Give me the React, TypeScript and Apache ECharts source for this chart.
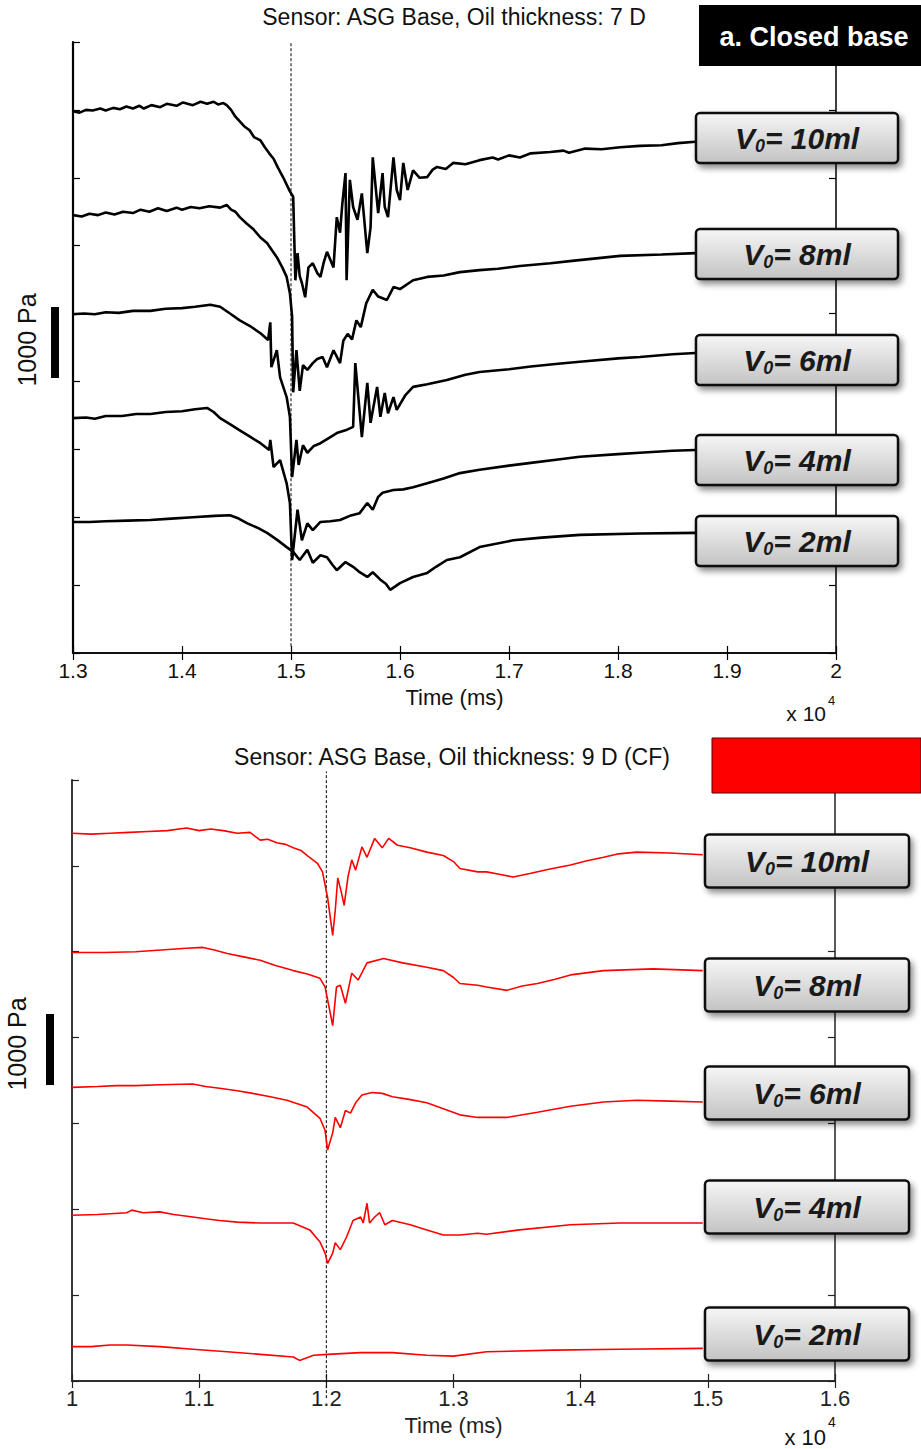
import { useEffect, useRef } from "react";
import * as echarts from "echarts";

type Pt = [number, number];

// ---------- Panel a: closed base (time in ms, traces in stacked offset units) ----------
const closedTickLabels = ["1.3", "1.4", "1.5", "1.6", "1.7", "1.8", "1.9", "2"];
const closedV10: Pt[] = [
  [13000, 7.98], [13060, 7.96], [13120, 8.0], [13180, 7.99], [13250, 8.02], [13300, 7.99], [13370, 8.03],
  [13430, 8.01], [13490, 8.05], [13550, 8.02], [13610, 8.06], [13650, 8.02], [13720, 8.07], [13800, 8.04],
  [13860, 8.09], [13950, 8.06], [14010, 8.11], [14100, 8.07], [14170, 8.12], [14230, 8.09], [14290, 8.12],
  [14330, 8.08], [14380, 8.1], [14410, 8.07], [14450, 8.0], [14490, 7.9], [14530, 7.83], [14570, 7.76],
  [14620, 7.7], [14660, 7.6], [14720, 7.55], [14760, 7.45], [14800, 7.36], [14840, 7.28], [14880, 7.15],
  [14930, 7.0], [14960, 6.9], [14990, 6.8], [15020, 6.72], [15040, 5.49], [15060, 5.89], [15080, 5.55],
  [15100, 5.45], [15130, 5.24], [15160, 5.68], [15200, 5.74], [15240, 5.6], [15270, 5.54], [15300, 5.75],
  [15330, 5.91], [15390, 5.68], [15420, 6.42], [15450, 6.19], [15470, 6.6], [15500, 7.07], [15510, 5.49],
  [15540, 6.97], [15570, 6.57], [15610, 6.38], [15650, 6.77], [15700, 5.89], [15730, 6.27], [15750, 7.3],
  [15800, 6.48], [15840, 7.07], [15860, 6.57], [15890, 6.42], [15940, 7.3], [15970, 6.82], [16000, 6.67],
  [16030, 7.22], [16070, 6.82], [16120, 7.11], [16180, 7.0], [16250, 7.01], [16300, 7.12], [16340, 7.16],
  [16420, 7.13], [16490, 7.22], [16600, 7.2], [16730, 7.26], [16850, 7.3], [16900, 7.27], [17000, 7.33],
  [17100, 7.3], [17200, 7.36], [17380, 7.38], [17500, 7.4], [17550, 7.37], [17700, 7.43], [17850, 7.42],
  [18020, 7.45], [18200, 7.47], [18400, 7.48], [18550, 7.51], [18710, 7.53],
];
const closedV8: Pt[] = [
  [13000, 6.45], [13080, 6.43], [13150, 6.47], [13230, 6.45], [13300, 6.49], [13380, 6.46], [13460, 6.5],
  [13550, 6.48], [13620, 6.53], [13700, 6.5], [13780, 6.55], [13860, 6.51], [13950, 6.56], [14000, 6.53],
  [14080, 6.57], [14160, 6.55], [14250, 6.58], [14350, 6.56], [14410, 6.6], [14450, 6.53], [14490, 6.5],
  [14530, 6.42], [14590, 6.33], [14650, 6.25], [14720, 6.12], [14780, 6.04], [14830, 5.92], [14870, 5.83],
  [14920, 5.68], [14960, 5.54], [14990, 5.3], [15010, 4.96], [15020, 3.84], [15050, 4.46], [15080, 3.86],
  [15110, 4.24], [15150, 4.17], [15200, 4.27], [15240, 4.33], [15290, 4.36], [15330, 4.21], [15390, 4.46],
  [15450, 4.27], [15480, 4.6], [15520, 4.7], [15560, 4.62], [15600, 4.9], [15640, 4.8], [15690, 5.15],
  [15750, 5.35], [15800, 5.25], [15880, 5.2], [15940, 5.39], [16000, 5.36], [16120, 5.49], [16250, 5.54],
  [16400, 5.56], [16550, 5.61], [16730, 5.64], [16900, 5.66], [17100, 5.7], [17380, 5.74], [17600, 5.78],
  [18020, 5.85], [18400, 5.87], [18710, 5.89],
];
const closedV6: Pt[] = [
  [13000, 4.99], [13100, 5.0], [13200, 4.99], [13300, 5.02], [13420, 5.01], [13550, 5.04], [13710, 5.04],
  [13850, 5.07], [14000, 5.08], [14120, 5.1], [14260, 5.13], [14350, 5.1], [14440, 5.0], [14530, 4.9],
  [14620, 4.82], [14720, 4.71], [14790, 4.61], [14810, 4.87], [14820, 4.21], [14870, 4.46], [14900, 4.06],
  [14960, 3.77], [14990, 3.48], [15010, 2.59], [15050, 3.14], [15070, 2.77], [15110, 3.06], [15150, 2.95],
  [15210, 3.05], [15270, 3.09], [15350, 3.17], [15420, 3.24], [15500, 3.28], [15570, 3.33], [15590, 4.27],
  [15620, 3.73], [15650, 3.18], [15700, 3.98], [15730, 3.39], [15790, 3.92], [15820, 3.48], [15860, 3.83],
  [15890, 3.53], [15940, 3.77], [15970, 3.58], [16050, 3.8], [16120, 3.92], [16250, 3.96], [16430, 4.02],
  [16600, 4.1], [16730, 4.14], [17000, 4.18], [17200, 4.22], [17450, 4.26], [17650, 4.29], [18000, 4.34],
  [18200, 4.36], [18500, 4.4], [18710, 4.42],
];
const closedV4: Pt[] = [
  [13000, 3.46], [13120, 3.47], [13200, 3.45], [13300, 3.49], [13450, 3.49], [13580, 3.52], [13710, 3.52],
  [13850, 3.55], [14000, 3.56], [14120, 3.59], [14230, 3.61], [14290, 3.55], [14350, 3.46], [14440, 3.37],
  [14530, 3.28], [14620, 3.19], [14720, 3.09], [14800, 2.99], [14810, 3.14], [14840, 2.74], [14900, 2.84],
  [14960, 2.5], [14990, 2.21], [15010, 1.37], [15060, 2.11], [15100, 1.66], [15150, 1.91], [15200, 1.81],
  [15270, 1.93], [15360, 1.94], [15450, 1.96], [15540, 2.02], [15630, 2.06], [15700, 2.21], [15750, 2.11],
  [15800, 2.3], [15840, 2.36], [15940, 2.4], [16030, 2.41], [16120, 2.44], [16250, 2.5], [16400, 2.57],
  [16550, 2.65], [16730, 2.7], [17000, 2.76], [17200, 2.8], [17450, 2.85], [17650, 2.89], [18000, 2.93],
  [18200, 2.95], [18500, 2.98], [18710, 2.99],
];
const closedV2: Pt[] = [
  [13000, 1.93], [13150, 1.93], [13300, 1.94], [13500, 1.95], [13710, 1.96], [13900, 1.98], [14100, 2.0],
  [14300, 2.02], [14440, 2.03], [14520, 1.98], [14600, 1.91], [14700, 1.84], [14780, 1.77], [14870, 1.67],
  [14960, 1.56], [15020, 1.49], [15080, 1.37], [15150, 1.52], [15200, 1.33], [15270, 1.44], [15330, 1.41],
  [15380, 1.3], [15420, 1.22], [15500, 1.34], [15570, 1.27], [15630, 1.19], [15700, 1.12], [15750, 1.19],
  [15820, 1.08], [15870, 1.02], [15910, 0.93], [16000, 1.03], [16120, 1.12], [16250, 1.18], [16330, 1.27],
  [16430, 1.37], [16550, 1.41], [16730, 1.56], [17040, 1.66], [17300, 1.7], [17650, 1.74], [18200, 1.76],
  [18710, 1.77],
];
const closedMarker: Pt[] = [[15000, 0.1], [15000, 9]];

// ---------- Panel b: 9 D (CF) ----------
const cfTickLabels = ["1", "1.1", "1.2", "1.3", "1.4", "1.5", "1.6"];
const cfV10: Pt[] = [
  [10000, 6.38], [10150, 6.37], [10300, 6.38], [10450, 6.39], [10600, 6.4], [10750, 6.41], [10900, 6.44],
  [11000, 6.41], [11090, 6.43], [11190, 6.41], [11300, 6.38], [11400, 6.39], [11480, 6.3], [11540, 6.31],
  [11610, 6.27], [11680, 6.25], [11740, 6.21], [11800, 6.18], [11850, 6.12], [11930, 6.03], [11970, 5.93],
  [12010, 5.63], [12050, 5.19], [12070, 5.48], [12090, 5.86], [12120, 5.68], [12140, 5.54], [12170, 5.87],
  [12200, 6.07], [12230, 5.95], [12280, 6.22], [12320, 6.1], [12380, 6.32], [12440, 6.21], [12490, 6.32],
  [12560, 6.24], [12660, 6.21], [12790, 6.16], [12920, 6.12], [13000, 6.05], [13050, 5.97], [13190, 5.93],
  [13260, 5.93], [13370, 5.9], [13470, 5.87], [13600, 5.91], [13750, 5.96], [13920, 6.01], [14050, 6.06],
  [14180, 6.1], [14300, 6.14], [14440, 6.16], [14700, 6.15], [14960, 6.13],
];
const cfV8: Pt[] = [
  [10000, 4.99], [10250, 4.99], [10500, 5.0], [10700, 5.02], [10900, 5.04], [11030, 5.05], [11120, 5.02],
  [11220, 4.98], [11350, 4.94], [11480, 4.9], [11600, 4.84], [11740, 4.78], [11850, 4.74], [11950, 4.69],
  [11990, 4.59], [12050, 4.14], [12080, 4.59], [12110, 4.61], [12150, 4.4], [12200, 4.75], [12250, 4.67],
  [12320, 4.87], [12450, 4.92], [12600, 4.87], [12790, 4.82], [12920, 4.78], [13000, 4.7], [13050, 4.63],
  [13190, 4.61], [13260, 4.59], [13420, 4.55], [13540, 4.6], [13660, 4.63], [13800, 4.68], [13920, 4.73],
  [14180, 4.78], [14570, 4.8], [14960, 4.78],
];
const cfV6: Pt[] = [
  [10000, 3.42], [10200, 3.43], [10350, 3.44], [10500, 3.44], [10690, 3.45], [10950, 3.46], [11050, 3.43],
  [11160, 3.41], [11300, 3.38], [11420, 3.35], [11560, 3.31], [11690, 3.27], [11850, 3.19], [11950, 3.06],
  [11990, 2.92], [12010, 2.69], [12050, 2.89], [12070, 3.07], [12110, 2.95], [12150, 3.15], [12190, 3.12],
  [12230, 3.24], [12280, 3.33], [12360, 3.36], [12440, 3.35], [12520, 3.31], [12650, 3.28], [12790, 3.24],
  [12920, 3.17], [13050, 3.1], [13190, 3.07], [13420, 3.07], [13660, 3.13], [13920, 3.2], [14180, 3.25],
  [14440, 3.27], [14700, 3.26], [14960, 3.25],
];
const cfV4: Pt[] = [
  [10000, 1.93], [10200, 1.94], [10430, 1.96], [10470, 1.99], [10560, 1.96], [10690, 1.97], [10800, 1.94],
  [10950, 1.91], [11050, 1.89], [11160, 1.87], [11300, 1.85], [11480, 1.84], [11600, 1.84], [11740, 1.84],
  [11870, 1.76], [11950, 1.62], [11990, 1.49], [12010, 1.37], [12050, 1.49], [12070, 1.61], [12110, 1.53],
  [12160, 1.68], [12210, 1.87], [12270, 1.91], [12290, 1.84], [12320, 2.07], [12340, 1.84], [12380, 1.91],
  [12420, 1.96], [12460, 1.82], [12520, 1.87], [12660, 1.82], [12790, 1.76], [12920, 1.7], [13050, 1.7],
  [13190, 1.72], [13260, 1.71], [13520, 1.76], [13920, 1.82], [14310, 1.84], [14960, 1.84],
];
const cfV2: Pt[] = [
  [10000, 0.4], [10150, 0.4], [10300, 0.42], [10430, 0.42], [10690, 0.4], [10950, 0.37], [11220, 0.34],
  [11480, 0.31], [11740, 0.28], [11790, 0.24], [11900, 0.3], [12010, 0.31], [12270, 0.33], [12520, 0.33],
  [12790, 0.3], [13000, 0.29], [13260, 0.34], [13780, 0.36], [14310, 0.37], [14960, 0.38],
];
const cfMarker: Pt[] = [[12000, -0.2], [12000, 7.1]];

const volumeLabels = ["10ml", "8ml", "6ml", "4ml", "2ml"];

// ---------- layout (pixels) ----------
const closedBoxCenters = [138, 254, 360, 460, 541];
const cfBoxCenters = [861, 985, 1093, 1207, 1334];

const FONT = "'Liberation Sans', Arial, Helvetica, sans-serif";

function labelBox(x: number, yc: number, w: number, h: number, vol: string) {
  const grad = new echarts.graphic.LinearGradient(0, 0, 0, 1, [
    { offset: 0, color: "#f6f6f6" },
    { offset: 1, color: "#c3c3c3" },
  ]);
  return [
    {
      type: "rect",
      z: 100,
      shape: { x, y: yc - h / 2, width: w, height: h, r: 4 },
      style: {
        fill: grad,
        stroke: "#111",
        lineWidth: 2.5,
        shadowBlur: 6,
        shadowOffsetX: 3,
        shadowOffsetY: 4,
        shadowColor: "rgba(0,0,0,0.45)",
      },
    },
    {
      type: "text",
      z: 101,
      x: x + w / 2,
      y: yc,
      style: {
        text: `{v|V}{s|0}{v|= ${vol}}`,
        align: "center",
        verticalAlign: "middle",
        rich: {
          v: { fontSize: 30, fontWeight: "bold", fontStyle: "italic", fontFamily: FONT, fill: "#1a1a1a", lineHeight: 34, verticalAlign: "middle" },
          s: { fontSize: 18, fontWeight: "bold", fontStyle: "italic", fontFamily: FONT, fill: "#1a1a1a", lineHeight: 18, verticalAlign: "bottom" },
        },
      },
    },
  ];
}

function tickFormatter(labels: string[], min: number) {
  return (v: number) => labels[Math.round((v - min) / 1000)] ?? "";
}

export default function App() {
  const ref = useRef<HTMLDivElement>(null);

  useEffect(() => {
    document.body.style.margin = "0";
    if (!ref.current) return;
    const chart = echarts.init(ref.current, undefined, { renderer: "svg" });

    const axisLineStyle = (w: number, c: string) => ({ show: true, lineStyle: { color: c, width: w } });
    const tick = (c: string) => ({ show: true, inside: true, length: 7, lineStyle: { color: c, width: 1.2 } });

    const blackTrace = (data: Pt[]) => ({
      type: "line",
      xAxisIndex: 0,
      yAxisIndex: 0,
      data,
      symbol: "none",
      silent: true,
      lineStyle: { color: "#000", width: 2.6 },
    });
    const redTrace = (data: Pt[]) => ({
      type: "line",
      xAxisIndex: 2,
      yAxisIndex: 2,
      data,
      symbol: "none",
      silent: true,
      lineStyle: { color: "#ff0000", width: 1.6 },
    });

    const graphics: any[] = [
      // titles
      { type: "text", x: 454, y: 17, style: { text: "Sensor: ASG Base, Oil thickness: 7 D", font: `23px ${FONT}`, fill: "#111", align: "center", verticalAlign: "middle" } },
      { type: "text", x: 452, y: 757, style: { text: "Sensor: ASG Base, Oil thickness: 9 D (CF)", font: `23px ${FONT}`, fill: "#111", align: "center", verticalAlign: "middle" } },
      // panel tags
      { type: "rect", z: 100, shape: { x: 699, y: 5, width: 222, height: 61 }, style: { fill: "#000" } },
      { type: "text", z: 101, x: 814, y: 37, style: { text: "a. Closed base", font: `bold 27px ${FONT}`, fill: "#fff", align: "center", verticalAlign: "middle" } },
      { type: "rect", z: 100, shape: { x: 712, y: 738, width: 209, height: 55 }, style: { fill: "#ff0000", stroke: "#5a0000", lineWidth: 1 } },
      // scale bars
      { type: "rect", shape: { x: 51, y: 307, width: 8, height: 71 }, style: { fill: "#000" } },
      { type: "text", x: 27, y: 340, rotation: Math.PI / 2, style: { text: "1000 Pa", font: `25px ${FONT}`, fill: "#111", align: "center", verticalAlign: "middle" } },
      { type: "rect", shape: { x: 46, y: 1014, width: 8, height: 71 }, style: { fill: "#000" } },
      { type: "text", x: 17, y: 1044, rotation: Math.PI / 2, style: { text: "1000 Pa", font: `25px ${FONT}`, fill: "#111", align: "center", verticalAlign: "middle" } },
      // x 10^4
      { type: "text", x: 826, y: 713, style: { text: "x 10", font: `21px ${FONT}`, fill: "#111", align: "right", verticalAlign: "middle" } },
      { type: "text", x: 828, y: 700, style: { text: "4", font: `13px ${FONT}`, fill: "#111", align: "left", verticalAlign: "middle" } },
      { type: "text", x: 826, y: 1437, style: { text: "x 10", font: `22px ${FONT}`, fill: "#111", align: "right", verticalAlign: "middle" } },
      { type: "text", x: 828, y: 1422, style: { text: "4", font: `14px ${FONT}`, fill: "#111", align: "left", verticalAlign: "middle" } },
    ];
    volumeLabels.forEach((vol, i) => {
      graphics.push(...labelBox(696, closedBoxCenters[i], 202, 50, vol));
      graphics.push(...labelBox(705, cfBoxCenters[i], 204, 53, vol));
    });

    const option: any = {
      animation: false,
      backgroundColor: "#fff",
      grid: [
        { left: 73, top: 42, width: 763, height: 611, containLabel: false, outerBoundsMode: "none" },
        { left: 72, top: 780, width: 763, height: 601, containLabel: false, outerBoundsMode: "none" },
      ],
      xAxis: [
        {
          gridIndex: 0, type: "value", position: "bottom", min: 13000, max: 20000, interval: 1000,
          axisLine: axisLineStyle(1.5, "#000"), axisTick: tick("#000"), splitLine: { show: false },
          axisLabel: { formatter: tickFormatter(closedTickLabels, 13000), color: "#111", fontSize: 21, fontFamily: FONT, margin: 7 },
          name: "Time (ms)", nameLocation: "middle", nameGap: 33,
          nameTextStyle: { color: "#111", fontSize: 22, fontFamily: FONT, verticalAlign: "top" },
        },
        {
          gridIndex: 0, type: "value", position: "top", min: 13000, max: 20000, interval: 1000,
          axisLine: axisLineStyle(1.5, "#000"), axisTick: tick("#000"), axisLabel: { show: false }, splitLine: { show: false },
        },
        {
          gridIndex: 1, type: "value", position: "bottom", min: 10000, max: 16000, interval: 1000,
          axisLine: axisLineStyle(1.5, "#222"), axisTick: tick("#222"), splitLine: { show: false },
          axisLabel: { formatter: tickFormatter(cfTickLabels, 10000), color: "#222", fontSize: 22, fontFamily: FONT, margin: 6 },
          name: "Time (ms)", nameLocation: "middle", nameGap: 33,
          nameTextStyle: { color: "#222", fontSize: 22, fontFamily: FONT, verticalAlign: "top" },
        },
        {
          gridIndex: 1, type: "value", position: "top", min: 10000, max: 16000, interval: 1000,
          axisLine: axisLineStyle(1.5, "#222"), axisTick: tick("#222"), axisLabel: { show: false }, splitLine: { show: false },
        },
      ],
      yAxis: [
        { gridIndex: 0, type: "value", position: "left", min: 0, max: 9, interval: 1, axisLine: axisLineStyle(2.2, "#000"), axisTick: tick("#000"), axisLabel: { show: false }, splitLine: { show: false } },
        { gridIndex: 0, type: "value", position: "right", min: 0, max: 9, interval: 1, axisLine: axisLineStyle(1.5, "#000"), axisTick: tick("#000"), axisLabel: { show: false }, splitLine: { show: false } },
        { gridIndex: 1, type: "value", position: "left", min: 0, max: 7, interval: 1, axisLine: axisLineStyle(1.8, "#222"), axisTick: tick("#222"), axisLabel: { show: false }, splitLine: { show: false } },
        { gridIndex: 1, type: "value", position: "right", min: 0, max: 7, interval: 1, axisLine: axisLineStyle(1.5, "#222"), axisTick: tick("#222"), axisLabel: { show: false }, splitLine: { show: false } },
      ],
      series: [
        {
          type: "line", xAxisIndex: 0, yAxisIndex: 0, data: closedMarker, symbol: "none", silent: true,
          lineStyle: { color: "#000", width: 1, type: [3, 2] },
        },
        blackTrace(closedV10),
        blackTrace(closedV8),
        blackTrace(closedV6),
        blackTrace(closedV4),
        blackTrace(closedV2),
        {
          type: "line", xAxisIndex: 2, yAxisIndex: 2, data: cfMarker, symbol: "none", silent: true, clip: false,
          lineStyle: { color: "#000", width: 1, type: [3, 2] },
        },
        redTrace(cfV10),
        redTrace(cfV8),
        redTrace(cfV6),
        redTrace(cfV4),
        redTrace(cfV2),
      ],
      graphic: graphics,
    };

    chart.setOption(option);
    return () => chart.dispose();
  }, []);

  return <div ref={ref} style={{ width: 921, height: 1449 }} />;
}
